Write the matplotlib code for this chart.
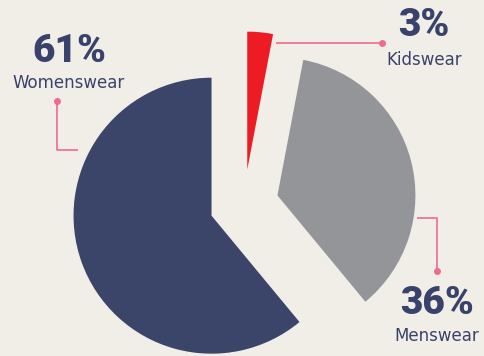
import matplotlib
matplotlib.use("Agg")
import matplotlib.pyplot as plt

# data
categories = ["Womenswear", "Menswear", "Kidswear"]
shares = [61, 36, 3]
pct_labels = ["61%", "36%", "3%"]

colors = ["#3b4469", "#939598", "#ed1c24"]
bg = "#f1eee8"
text_col = "#39426b"
pink = "#ef6b8b"

W, H = 484, 356
R = 138.0          # pie radius in pixels
CX, CY = 244, 204  # pie centre in pixels


def px(x, y):
    # pixel position -> data coords (radius 1 == R pixels)
    return (x - CX) / R, (CY - y) / R


fig = plt.figure(figsize=(W / 100, H / 100), dpi=100, facecolor=bg)
ax = fig.add_axes([0, 0, 1, 1])
ax.set_facecolor(bg)

ax.pie(shares, colors=colors, startangle=90, counterclock=True,
       explode=[0.25] * len(shares), radius=1,
       wedgeprops=dict(linewidth=0))

ax.set_xlim(px(0, 0)[0], px(W, 0)[0])
ax.set_ylim(px(0, H)[1], px(0, 0)[1])
ax.set_aspect("auto")
ax.axis("off")

# leader lines: list of pixel paths, dot at the end
leaders = [
    [(78, 150), (57, 150), (57, 101)],
    [(417, 218), (437, 218), (437, 271)],
    [(276, 43), (382, 43)],
]
for path in leaders:
    xs, ys = zip(*[px(x, y) for x, y in path])
    ax.plot(xs, ys, color=pink, lw=1.2, solid_capstyle="butt")
    ax.plot(xs[-1], ys[-1], "o", color=pink, ms=5, mew=0)

# label positions (centres, pixels)
pct_pos = [(69, 51), (437, 303), (424, 26)]
name_pos = [(69, 83), (437, 336), (424, 60)]

for i in range(len(categories)):
    x, y = px(*pct_pos[i])
    ax.text(x, y, pct_labels[i], ha="center", va="center", color=text_col,
            fontsize=28, fontweight="black", family=["Roboto", "DejaVu Sans"])
    x, y = px(*name_pos[i])
    ax.text(x, y, categories[i], ha="center", va="center", color=text_col,
            fontsize=12, family="DejaVu Sans")

fig.savefig("out.png", dpi=100, facecolor=bg)
